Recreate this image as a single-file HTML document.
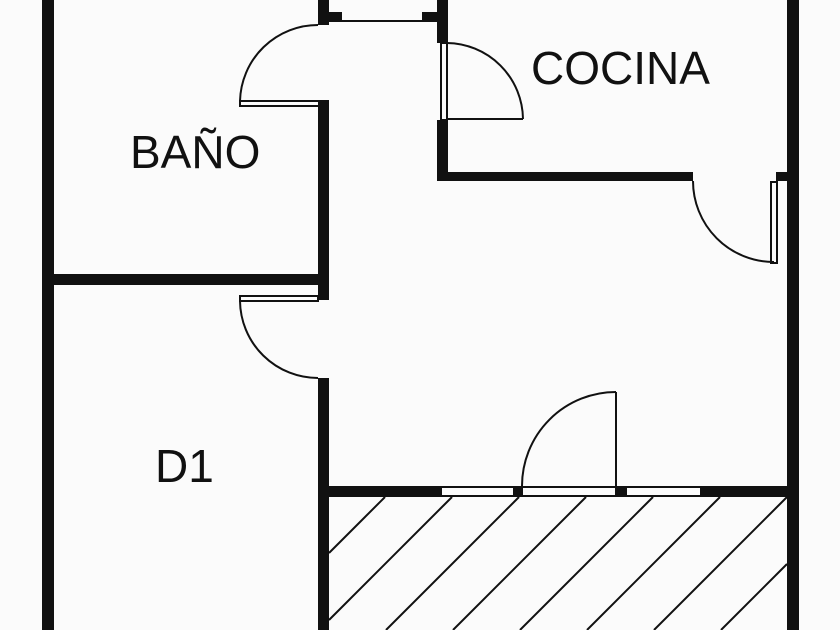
<!DOCTYPE html>
<html><head><meta charset="utf-8"><style>html,body{margin:0;padding:0;background:#fbfbfb;width:840px;height:630px;overflow:hidden}svg{display:block}</style></head>
<body>
<svg width="840" height="630" viewBox="0 0 840 630" xmlns="http://www.w3.org/2000/svg">
<rect width="840" height="630" fill="#fbfbfb"/>
<g stroke="#111" stroke-width="2">
<line x1="385" y1="497" x2="329" y2="553"/>
<line x1="452" y1="497" x2="329" y2="620"/>
<line x1="519" y1="497" x2="386" y2="630"/>
<line x1="586" y1="497" x2="453" y2="630"/>
<line x1="653" y1="497" x2="520" y2="630"/>
<line x1="720" y1="497" x2="587" y2="630"/>
<line x1="787" y1="497" x2="654" y2="630"/>
<line x1="787" y1="564" x2="721" y2="630"/>
</g>
<g fill="#111">
<rect x="42" y="0" width="12" height="630"/>
<rect x="787" y="0" width="12" height="630"/>
<rect x="54" y="274" width="275" height="11"/>
<rect x="318" y="102" width="11" height="198"/>
<rect x="318" y="378" width="11" height="252"/>
<rect x="318" y="0" width="11" height="25"/>
<rect x="329" y="12" width="13" height="10"/>
<rect x="422" y="12" width="15" height="10"/>
<rect x="437" y="0" width="11" height="43"/>
<rect x="437" y="120" width="11" height="61"/>
<rect x="437" y="172" width="256" height="9"/>
<rect x="776" y="172" width="11" height="9"/>
<rect x="329" y="486" width="113" height="11"/>
<rect x="514" y="486" width="8" height="11"/>
<rect x="616" y="486" width="10" height="11"/>
<rect x="701" y="486" width="86" height="11"/>
</g>
<g fill="none" stroke="#111" stroke-width="2">
<line x1="342" y1="21" x2="422" y2="21"/>
<rect x="441" y="487" width="73" height="9"/>
<rect x="522" y="487" width="94" height="9"/>
<rect x="626" y="487" width="75" height="9"/>
<line x1="616" y1="392" x2="616" y2="486"/>
<path d="M616 392 A94 94 0 0 0 522 486"/>
<rect x="240" y="101" width="88" height="5"/>
<path d="M240 101 A78 78 0 0 1 318 25"/>
<rect x="240" y="296" width="78" height="5"/>
<path d="M240 301 A78 78 0 0 0 318 378"/>
<rect x="441" y="43" width="6" height="77"/>
<line x1="447" y1="119" x2="523" y2="119"/>
<path d="M447 43 A77 77 0 0 1 523 119"/>
<rect x="771" y="182" width="6" height="81"/>
<path d="M693 181 A81 81 0 0 0 774 262"/>
</g>
<g font-family="Liberation Sans, sans-serif" font-size="46" fill="#111">
<text x="531" y="84">COCINA</text>
<text x="130" y="168">BAÑO</text>
<text x="155" y="482">D1</text>
</g>
</svg>
</body></html>
